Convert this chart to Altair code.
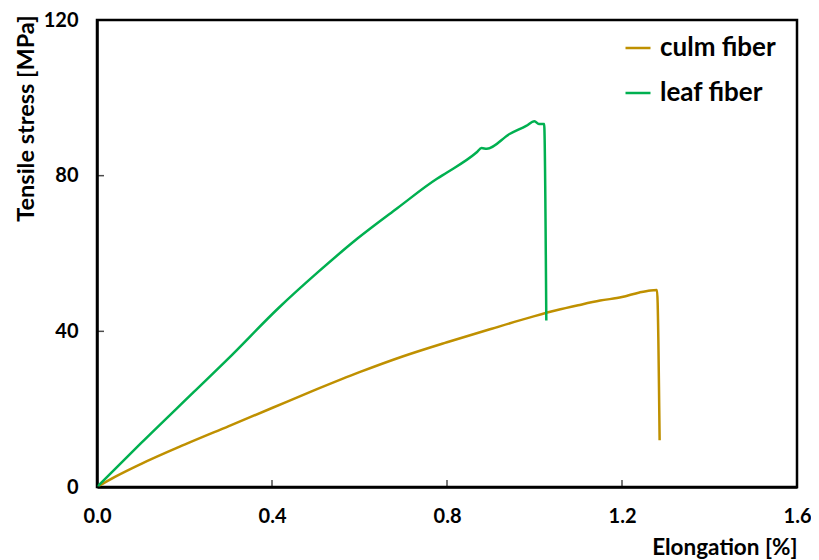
import altair as alt
import pandas as pd

# ---- data ----
culm_x = [0, 0.041, 0.1, 0.2, 0.3, 0.4, 0.5, 0.6, 0.7, 0.8, 0.9, 1.0, 1.05, 1.1, 1.15, 1.2, 1.24, 1.265, 1.28, 1.286]
culm_y = [0, 2.6, 5.9, 10.9, 15.6, 20.3, 25.0, 29.5, 33.6, 37.2, 40.6, 43.9, 45.4, 46.7, 47.9, 48.8, 50.0, 50.5, 50.6, 12.0]

leaf_x = [0, 0.1, 0.222, 0.3, 0.415, 0.505, 0.596, 0.687, 0.777, 0.8, 0.868, 0.879, 0.891, 0.943, 0.981, 1.0, 1.01, 1.022, 1.027]
leaf_y = [0, 11.2, 24.5, 33.0, 46.0, 55.2, 63.9, 71.7, 79.2, 80.8, 86.0, 87.1, 86.9, 90.7, 92.8, 94.0, 93.3, 93.3, 42.8]

series_names = ["culm fiber", "leaf fiber"]
series_colors = ["#BF9000", "#00B050"]

x_ticks = [0.0, 0.4, 0.8, 1.2, 1.6]
y_ticks = [0, 40, 80, 120]

rows = []
for i, (x, y) in enumerate(zip(culm_x, culm_y)):
    rows.append({"series": series_names[0], "x": x, "y": y, "order": i})
for i, (x, y) in enumerate(zip(leaf_x, leaf_y)):
    rows.append({"series": series_names[1], "x": x, "y": y, "order": i})
df = pd.DataFrame(rows)

FONT = "Lato"
W, H = 700, 467

xscale = alt.Scale(domain=[0, 1.6], nice=False, zero=False)
yscale = alt.Scale(domain=[0, 120], nice=False)

lines = alt.Chart(df).mark_line(strokeWidth=2.5, clip=True, interpolate="monotone").encode(
    x=alt.X("x:Q", scale=xscale,
            axis=alt.Axis(values=x_ticks, format=".1f", title="Elongation [%]",
                          ticks=False, grid=False, domainColor="black", domainWidth=2.5,
                          labelFont=FONT, labelFontSize=20, labelFontWeight="bold",
                          labelColor="black", labelPadding=19, labelFlush=False,
                          titleFont=FONT, titleFontSize=22.5, titleFontWeight="bold",
                          titleColor="black", titleAnchor="end", titleAlign="right",
                          titleX=W, titleY=60, titleBaseline="middle")),
    y=alt.Y("y:Q", scale=yscale,
            axis=alt.Axis(values=y_ticks, title="Tensile stress [MPa]",
                          ticks=False, grid=False, domainColor="black", domainWidth=2.5,
                          labelFont=FONT, labelFontSize=20, labelFontWeight="bold",
                          labelColor="black", labelPadding=19, labelFlush=False,
                          titleFont=FONT, titleFontSize=23.5, titleFontWeight="bold",
                          titleColor="black", titleAngle=-90, titleAlign="right",
                          titleBaseline="middle", titleX=-71, titleY=-5)),
    color=alt.Color("series:N",
                    scale=alt.Scale(domain=series_names, range=series_colors),
                    legend=alt.Legend(title=None, orient="none", legendX=527, legendY=14,
                                      symbolType="stroke", symbolSize=625,
                                      symbolStrokeWidth=2.5, labelFont=FONT,
                                      labelFontSize=26, labelFontWeight="bold",
                                      labelColor="black", labelOffset=8,
                                      rowPadding=18, padding=0)),
    order="order:Q",
)

xt = pd.DataFrame({"v": x_ticks})
yt = pd.DataFrame({"v": y_ticks})

xticks = alt.Chart(xt).mark_tick(color="black", thickness=1.5, size=14, clip=True,
                                 orient="vertical").encode(
    x=alt.X("v:Q", scale=xscale), y=alt.value(H))
yticks = alt.Chart(yt).mark_tick(color="black", thickness=1.5, size=14, clip=True,
                                 orient="horizontal").encode(
    y=alt.Y("v:Q", scale=yscale), x=alt.value(0))

chart = alt.layer(lines, xticks, yticks).properties(
    width=W, height=H,
    autosize=alt.AutoSizeParams(type="none"),
    padding={"left": 89, "top": 12, "right": 14, "bottom": 73},
    background="white",
).configure_view(stroke="black", strokeWidth=2.5)

chart.save("out.html", embed_options={"renderer": "svg", "actions": False})
